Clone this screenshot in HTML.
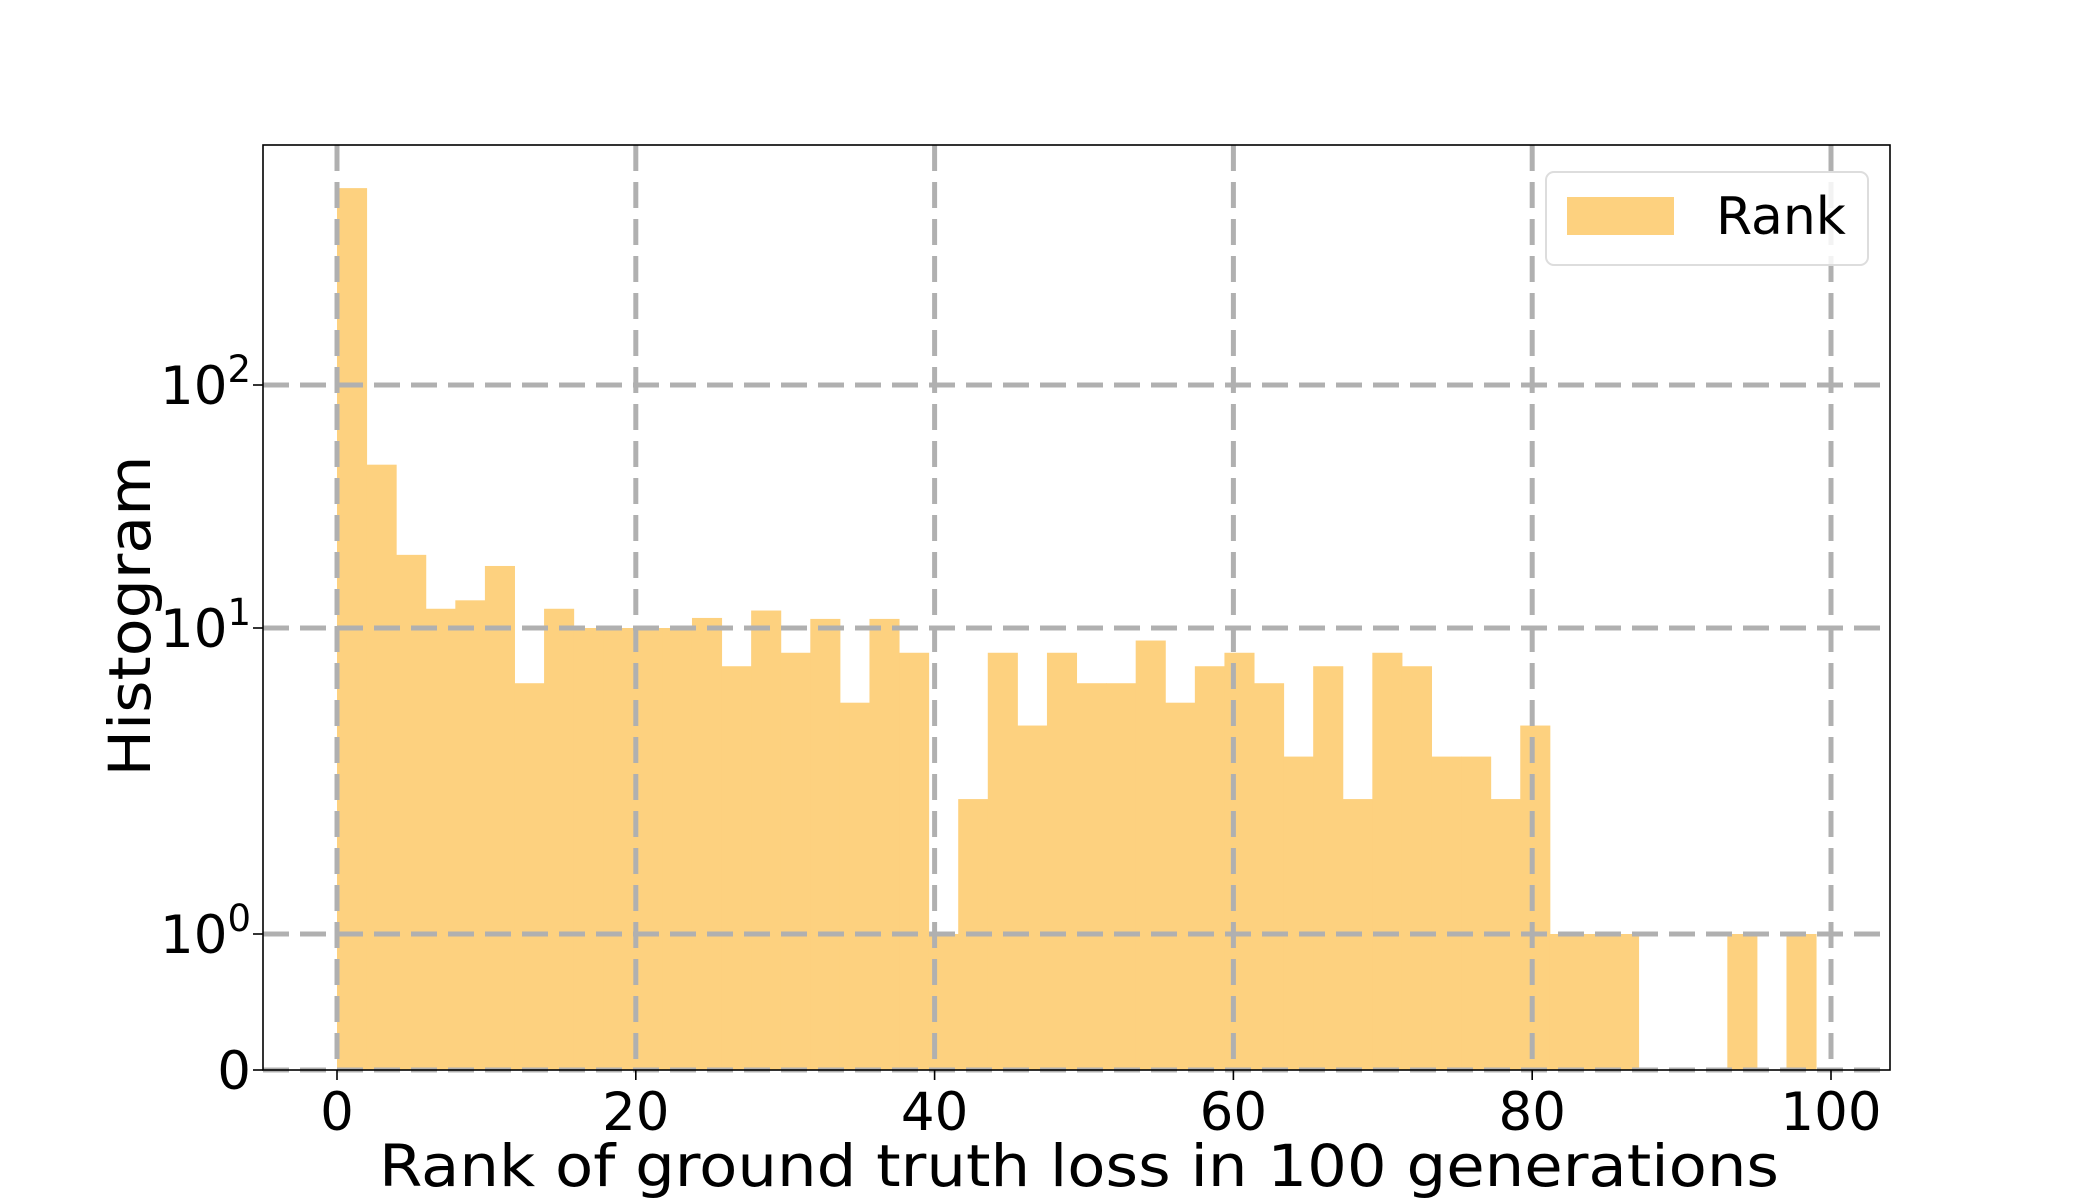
<!DOCTYPE html>
<html><head><meta charset="utf-8"><style>
html,body{margin:0;padding:0;background:#fff;}
svg{display:block;font-family:"DejaVu Sans","Liberation Sans",sans-serif;}
</style></head><body>
<svg id="chart" width="2100" height="1200" viewBox="0 0 2100 1200" xmlns="http://www.w3.org/2000/svg">
<g id="bars"></g>
<g id="grid"></g>
<rect x="263" y="145" width="1627" height="925" fill="none" stroke="#000" stroke-width="1.6"/>
<g id="xticks"></g>
<g id="yticks"></g>
<text x="1079" y="1186" font-size="58" text-anchor="middle" textLength="1400" lengthAdjust="spacingAndGlyphs">Rank of ground truth loss in 100 generations</text>
<text transform="translate(150,616) rotate(-90)" font-size="58" text-anchor="middle" textLength="321" lengthAdjust="spacingAndGlyphs">Histogram</text>
<g>
<rect x="1546" y="172" width="322" height="93" rx="8" fill="#fff" fill-opacity="0.85" stroke="#ddd" stroke-width="2"/>
<rect x="1567" y="197" width="107" height="38" fill="#fdd17f"/>
<text x="1716" y="234" font-size="52">Rank</text>
</g>
</svg>
<script>
const binStart = 0;
const binEnd = 99;
const counts = [646,47,20,12,13,18,6.6,12,10,10,10,10,11,7.5,11.8,8.3,10.9,5.7,10.9,8.3,
 1,2.76,8.3,4.8,8.3,6.6,6.6,9.1,5.7,7.5,8.3,6.6,3.8,7.5,2.76,8.3,7.5,3.8,3.8,2.76,
 4.8,1,1,1,0,0,0,1,0,1];
const xTickValues = [0,20,40,60,80,100];
const yTickValues = [0,1,10,100];
const yTickLabels = [["0",""],["10","0"],["10","1"],["10","2"]];

const NS = "http://www.w3.org/2000/svg";
function xScale(v){ return 337 + v*14.94; }
// axis anchors (0, 10^0, 10^1, 10^2)
function yScale(v){
  if (v <= 1) return 1070 - v*(1070-934);
  const l = Math.log10(v);
  if (l <= 1) return 934 - l*(934-628);
  return 628 - (l-1)*(628-385);
}
function mk(tag, attrs, parent){ const e=document.createElementNS(NS,tag); for(const k in attrs) e.setAttribute(k,attrs[k]); parent.appendChild(e); return e; }

const barsG = document.getElementById('bars');
const w = (binEnd-binStart)/counts.length;
counts.forEach((c,i)=>{
  if (c <= 0) return;
  const x0 = xScale(binStart+i*w), x1 = xScale(binStart+(i+1)*w);
  const y = yScale(c);
  const r = mk('rect',{x:x0,y:y,width:x1-x0+0.5,height:1070-y,fill:'#fdd17f'},barsG);
  
  
});

const gridG = document.getElementById('grid');
const dash = {stroke:'#b0b0b0','stroke-width':5,'stroke-dasharray':'26 11'};
xTickValues.forEach(v=>{
  const l = mk('line',Object.assign({x1:xScale(v),x2:xScale(v),y1:145,y2:1070},dash),gridG);
  
  
});
yTickValues.forEach(v=>{
  const l = mk('line',Object.assign({x1:263,x2:1890,y1:yScale(v),y2:yScale(v)},dash),gridG);
  
  
});

const xt = document.getElementById('xticks');
xTickValues.forEach(v=>{
  mk('line',{x1:xScale(v),x2:xScale(v),y1:1070,y2:1080,stroke:'#000','stroke-width':1.6},xt);
  const t = mk('text',{x:xScale(v),y:1130,'font-size':53,'text-anchor':'middle'},xt);
  t.textContent = String(v);
  
  
});
const yt = document.getElementById('yticks');
yTickValues.forEach((v,i)=>{
  const y = yScale(v);
  mk('line',{x1:253,x2:263,y1:y,y2:y,stroke:'#000','stroke-width':1.6},yt);
  const t = mk('text',{x:251,y:y+19,'font-size':53,'text-anchor':'end'},yt);
  const lab = yTickLabels[i];
  t.appendChild(document.createTextNode(lab[0]));
  if (lab[1]) { const s = mk('tspan',{'font-size':37,dy:-22},t); s.textContent = lab[1]; }
  
  
});
</script>
</body></html>
